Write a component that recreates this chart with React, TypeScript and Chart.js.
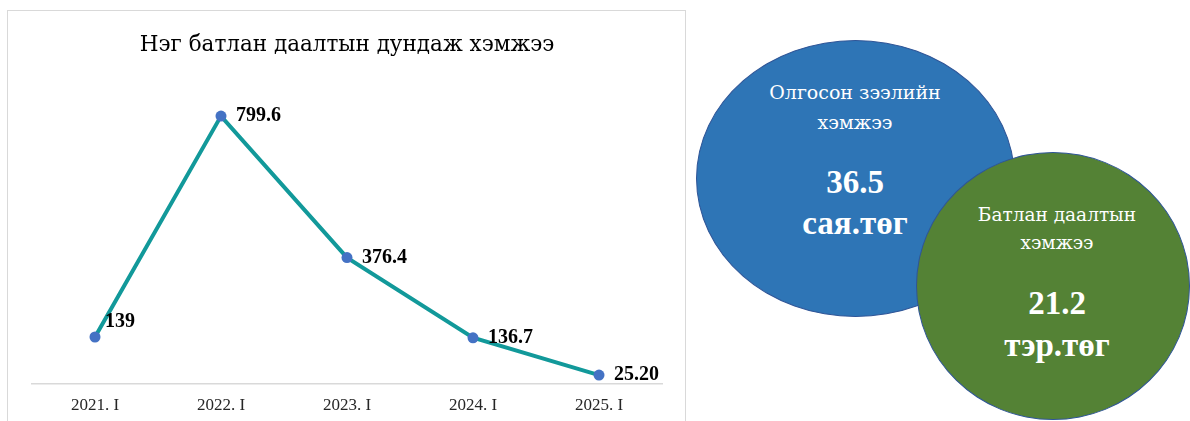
import React, { useEffect, useRef } from "react";
import { Chart, registerables } from "chart.js";

Chart.register(...registerables);

const categories = ["2021. I", "2022. I", "2023. I", "2024. I", "2025. I"];
const values = [139, 799.6, 376.4, 136.7, 25.2];
const valueLabels = ["139", "799.6", "376.4", "136.7", "25.20"];
const chartTitle = "Нэг батлан даалтын дундаж хэмжээ";
const loanTitle = ["Олгосон зээлийн", "хэмжээ"];
const loanValue = ["36.5", "сая.төг"];
const guaranteeTitle = ["Батлан даалтын", "хэмжээ"];
const guaranteeValue = ["21.2", "тэр.төг"];

const SERIF = "'Liberation Serif', 'DejaVu Serif', serif";
const SERIF2 = "'DejaVu Serif', serif";

const labelPlugin = {
  id: "valueLabels",
  afterDatasetsDraw(chart: any) {
    const ctx = chart.ctx;
    const meta = chart.getDatasetMeta(0);
    ctx.save();
    ctx.font = "bold 20px " + SERIF;
    ctx.fillStyle = "#000";
    ctx.textBaseline = "middle";
    ctx.textAlign = "left";
    meta.data.forEach((pt: any, i: number) => {
      const dy = i === 0 ? -15 : 0;
      const dx = i === 0 ? 10 : 15;
      ctx.fillText(valueLabels[i], pt.x + dx, pt.y + dy);
    });
    ctx.restore();
  },
};

function TextLine(props: { text: string; cx: number; cy: number; size: number; bold?: boolean; family?: string }) {
  const { text, cx, cy, size, bold, family } = props;
  const lh = Math.round(size * 1.3);
  return (
    <div
      style={{
        position: "absolute",
        left: cx - 150,
        width: 300,
        top: cy - lh / 2,
        height: lh,
        lineHeight: lh + "px",
        textAlign: "center",
        color: "#fff",
        fontFamily: family || SERIF,
        fontSize: size,
        fontWeight: bold ? "bold" : "normal",
        whiteSpace: "nowrap",
      }}
    >
      {text}
    </div>
  );
}

export default function App() {
  const canvasRef = useRef<HTMLCanvasElement | null>(null);

  useEffect(() => {
    if (!canvasRef.current) return;
    const chart = new Chart(canvasRef.current, {
      type: "line",
      data: {
        labels: categories,
        datasets: [
          {
            data: values,
            borderColor: "#12999A",
            borderWidth: 4,
            pointBackgroundColor: "#4472C4",
            pointBorderColor: "#4472C4",
            pointBorderWidth: 0,
            pointRadius: 5.5,
            tension: 0,
            fill: false,
          },
        ],
      },
      options: {
        animation: false,
        responsive: false,
        layout: { padding: { left: 32, right: 28, top: 0, bottom: 0 } },
        plugins: {
          legend: { display: false },
          tooltip: { enabled: false },
          title: {
            display: true,
            text: chartTitle,
            color: "#000",
            font: { family: SERIF2, size: 21.5, weight: "normal" },
            padding: { top: 32.1, bottom: 24.6 },
          },
        },
        scales: {
          x: {
            offset: true,
            grid: { display: false, drawTicks: false },
            border: { display: true, color: "#d9d9d9", width: 1.5 },
            ticks: { color: "#262626", font: { family: SERIF, size: 17 }, padding: 12 },
            afterFit: (scale: any) => {
              scale.height = 37.5;
            },
          },
          y: { display: false, min: 0, max: 900 },
        },
      },
      plugins: [labelPlugin],
    });
    return () => chart.destroy();
  }, []);

  return (
    <div
      style={{
        position: "fixed",
        left: 0,
        top: 0,
        width: 1190,
        height: 421,
        background: "#fff",
        overflow: "hidden",
      }}
    >
      <div
        style={{
          position: "absolute",
          left: 7,
          top: 10,
          width: 679,
          height: 430,
          border: "1.5px solid #d9d9d9",
          boxSizing: "border-box",
        }}
      />
      <canvas
        ref={canvasRef}
        width={690}
        height={421}
        style={{ position: "absolute", left: 0, top: 0, width: 690, height: 421 }}
      />
      <div
        style={{
          position: "absolute",
          left: 696,
          top: 40,
          width: 319,
          height: 277,
          borderRadius: "50%",
          background: "#2E75B6",
          border: "1px solid #2F5597",
          boxSizing: "border-box",
        }}
      />
      <TextLine text={loanTitle[0]} cx={855} cy={92} size={19} family={SERIF2} />
      <TextLine text={loanTitle[1]} cx={855} cy={122} size={19} family={SERIF2} />
      <TextLine text={loanValue[0]} cx={855} cy={182} size={33} bold />
      <TextLine text={loanValue[1]} cx={855} cy={223} size={33} bold />
      <div
        style={{
          position: "absolute",
          left: 916,
          top: 152,
          width: 274,
          height: 268,
          borderRadius: "50%",
          background: "#548235",
          border: "1.5px solid #2F5597",
          boxSizing: "border-box",
        }}
      />
      <TextLine text={guaranteeTitle[0]} cx={1057} cy={215} size={18.5} family={SERIF2} />
      <TextLine text={guaranteeTitle[1]} cx={1057} cy={243} size={18.5} family={SERIF2} />
      <TextLine text={guaranteeValue[0]} cx={1057} cy={303} size={33} bold />
      <TextLine text={guaranteeValue[1]} cx={1057} cy={345} size={33} bold />
    </div>
  );
}
